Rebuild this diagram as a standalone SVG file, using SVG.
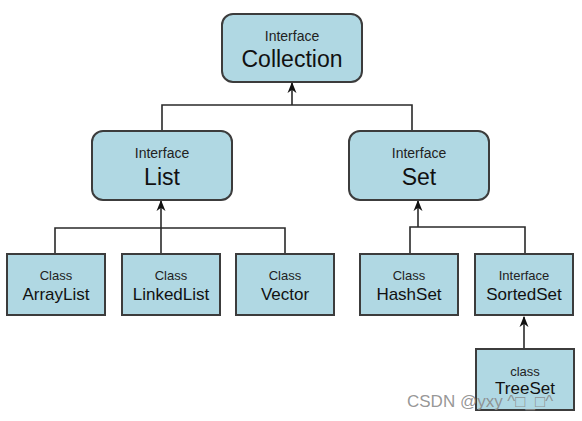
<svg xmlns="http://www.w3.org/2000/svg" width="582" height="421" viewBox="0 0 582 421">
<style>
.box{fill:#b0d8e3;stroke:#3c3c3c;stroke-width:2}
.sm{font-family:"Liberation Sans",Arial,sans-serif;font-size:14px;fill:#222;text-anchor:middle}
.lg{font-family:"Liberation Sans",Arial,sans-serif;font-size:23px;fill:#111;text-anchor:middle}
.cs{font-family:"Liberation Sans",Arial,sans-serif;font-size:13px;fill:#222;text-anchor:middle}
.cl{font-family:"Liberation Sans",Arial,sans-serif;font-size:17px;fill:#111;text-anchor:middle}
.ln{fill:none;stroke:#2a2a2a;stroke-width:1.6}
</style>
<defs>
<marker id="ah" viewBox="0 0 10 10" refX="9" refY="5" markerWidth="7" markerHeight="7" orient="auto">
<path d="M0,1 L10,5 L0,9 L3,5 Z" fill="#111"/>
</marker>
</defs>
<rect width="582" height="421" fill="#fff"/>
<g id="connectors">
<path class="ln" d="M162,131 V105 H412 V131"/>
<path class="ln" d="M292,105 V83" marker-end="url(#ah)"/>
<path class="ln" d="M55,254 V228 H285 V254"/>
<path class="ln" d="M161,254 V201" marker-end="url(#ah)"/>
<path class="ln" d="M410,254 V227 H525 V254"/>
<path class="ln" d="M418,227 V201" marker-end="url(#ah)"/>
<path class="ln" d="M524,349 V317" marker-end="url(#ah)"/>
</g>
<g id="collection">
<rect class="box" x="222" y="14" width="140" height="68" rx="11"/>
<text class="sm" x="292" y="41">Interface</text>
<text class="lg" x="292" y="67">Collection</text>
</g>
<g id="list">
<rect class="box" x="92" y="131" width="140" height="69" rx="11"/>
<text class="sm" x="162" y="158">Interface</text>
<text class="lg" x="162" y="185">List</text>
</g>
<g id="set">
<rect class="box" x="349" y="131" width="140" height="69" rx="11"/>
<text class="sm" x="419" y="158">Interface</text>
<text class="lg" x="419" y="185">Set</text>
</g>
<g id="arraylist">
<rect class="box" x="7" y="254" width="98" height="61"/>
<text class="cs" x="56" y="280">Class</text>
<text class="cl" x="56" y="300">ArrayList</text>
</g>
<g id="linkedlist">
<rect class="box" x="122" y="254" width="98" height="61"/>
<text class="cs" x="171" y="280">Class</text>
<text class="cl" x="171" y="300">LinkedList</text>
</g>
<g id="vector">
<rect class="box" x="236" y="254" width="98" height="61"/>
<text class="cs" x="285" y="280">Class</text>
<text class="cl" x="285" y="300">Vector</text>
</g>
<g id="hashset">
<rect class="box" x="360" y="254" width="98" height="61"/>
<text class="cs" x="409" y="280">Class</text>
<text class="cl" x="409" y="300">HashSet</text>
</g>
<g id="sortedset">
<rect class="box" x="475" y="254" width="98" height="61"/>
<text class="cs" x="524" y="280">Interface</text>
<text class="cl" x="524" y="300">SortedSet</text>
</g>
<g id="treeset">
<rect class="box" x="476" y="349" width="98" height="61"/>
<text class="cs" x="525" y="376">class</text>
<text class="cl" x="525" y="394">TreeSet</text>
</g>
<text x="407" y="407" font-family="'Liberation Sans',Arial,sans-serif" font-size="17" fill="#8a8a8a" fill-opacity="0.9">CSDN @yxy ^□_□^</text>
</svg>
